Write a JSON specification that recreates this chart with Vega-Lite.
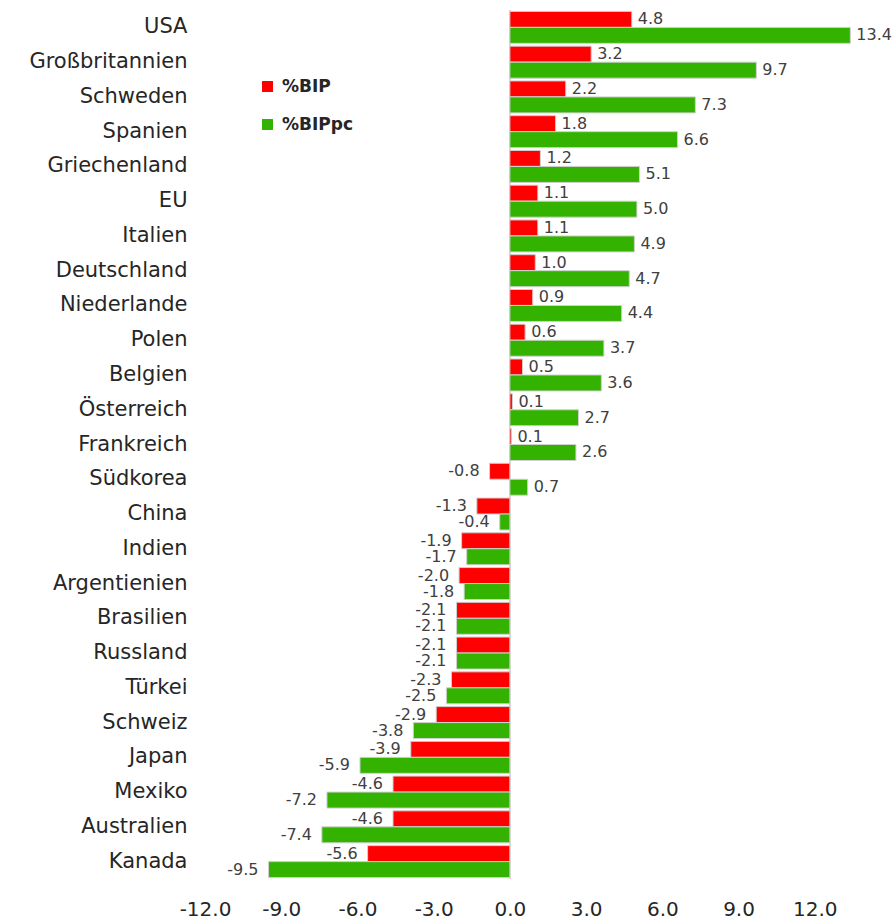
{
  "$schema": "https://vega.github.io/schema/vega-lite/v6.json",
  "width": 686,
  "height": 869,
  "autosize": {"type": "none"},
  "padding": {"left": 205, "top": 10, "right": 1, "bottom": 40},
  "background": "white",
  "config": {
    "view": {"stroke": null},
    "font": "DejaVu Sans",
    "text": {"font": "DejaVu Sans"},
    "locale": {
      "number": {
        "decimal": ".",
        "thousands": ",",
        "grouping": [3],
        "currency": ["$", ""],
        "minus": "-"
      }
    }
  },
  "data": {
    "values": [
      {"country": "USA", "series": "%BIP", "value": 4.8},
      {"country": "USA", "series": "%BIPpc", "value": 13.4},
      {"country": "Großbritannien", "series": "%BIP", "value": 3.2},
      {"country": "Großbritannien", "series": "%BIPpc", "value": 9.7},
      {"country": "Schweden", "series": "%BIP", "value": 2.2},
      {"country": "Schweden", "series": "%BIPpc", "value": 7.3},
      {"country": "Spanien", "series": "%BIP", "value": 1.8},
      {"country": "Spanien", "series": "%BIPpc", "value": 6.6},
      {"country": "Griechenland", "series": "%BIP", "value": 1.2},
      {"country": "Griechenland", "series": "%BIPpc", "value": 5.1},
      {"country": "EU", "series": "%BIP", "value": 1.1},
      {"country": "EU", "series": "%BIPpc", "value": 5.0},
      {"country": "Italien", "series": "%BIP", "value": 1.1},
      {"country": "Italien", "series": "%BIPpc", "value": 4.9},
      {"country": "Deutschland", "series": "%BIP", "value": 1.0},
      {"country": "Deutschland", "series": "%BIPpc", "value": 4.7},
      {"country": "Niederlande", "series": "%BIP", "value": 0.9},
      {"country": "Niederlande", "series": "%BIPpc", "value": 4.4},
      {"country": "Polen", "series": "%BIP", "value": 0.6},
      {"country": "Polen", "series": "%BIPpc", "value": 3.7},
      {"country": "Belgien", "series": "%BIP", "value": 0.5},
      {"country": "Belgien", "series": "%BIPpc", "value": 3.6},
      {"country": "Österreich", "series": "%BIP", "value": 0.1},
      {"country": "Österreich", "series": "%BIPpc", "value": 2.7},
      {"country": "Frankreich", "series": "%BIP", "value": 0.06},
      {"country": "Frankreich", "series": "%BIPpc", "value": 2.6},
      {"country": "Südkorea", "series": "%BIP", "value": -0.8},
      {"country": "Südkorea", "series": "%BIPpc", "value": 0.7},
      {"country": "China", "series": "%BIP", "value": -1.3},
      {"country": "China", "series": "%BIPpc", "value": -0.4},
      {"country": "Indien", "series": "%BIP", "value": -1.9},
      {"country": "Indien", "series": "%BIPpc", "value": -1.7},
      {"country": "Argentienien", "series": "%BIP", "value": -2.0},
      {"country": "Argentienien", "series": "%BIPpc", "value": -1.8},
      {"country": "Brasilien", "series": "%BIP", "value": -2.1},
      {"country": "Brasilien", "series": "%BIPpc", "value": -2.1},
      {"country": "Russland", "series": "%BIP", "value": -2.1},
      {"country": "Russland", "series": "%BIPpc", "value": -2.1},
      {"country": "Türkei", "series": "%BIP", "value": -2.3},
      {"country": "Türkei", "series": "%BIPpc", "value": -2.5},
      {"country": "Schweiz", "series": "%BIP", "value": -2.9},
      {"country": "Schweiz", "series": "%BIPpc", "value": -3.8},
      {"country": "Japan", "series": "%BIP", "value": -3.9},
      {"country": "Japan", "series": "%BIPpc", "value": -5.9},
      {"country": "Mexiko", "series": "%BIP", "value": -4.6},
      {"country": "Mexiko", "series": "%BIPpc", "value": -7.2},
      {"country": "Australien", "series": "%BIP", "value": -4.6},
      {"country": "Australien", "series": "%BIPpc", "value": -7.4},
      {"country": "Kanada", "series": "%BIP", "value": -5.6},
      {"country": "Kanada", "series": "%BIPpc", "value": -9.5}
    ]
  },
  "encoding": {
    "y": {
      "field": "country",
      "type": "nominal",
      "sort": null,
      "scale": {"paddingInner": 0.08, "paddingOuter": 0.04},
      "axis": {
        "title": null,
        "ticks": false,
        "domain": false,
        "labelFontSize": 21,
        "labelColor": "#262626",
        "labelPadding": 18,
        "labelFont": "DejaVu Sans",
        "labelOverlap": false
      }
    },
    "yOffset": {
      "field": "series",
      "type": "nominal",
      "sort": ["%BIP", "%BIPpc"],
      "scale": {"paddingInner": 0, "paddingOuter": 0}
    },
    "x": {
      "field": "value",
      "type": "quantitative",
      "scale": {"domain": [-12, 15], "nice": false, "zero": false},
      "axis": {
        "title": null,
        "values": [-12, -9, -6, -3, 0, 3, 6, 9, 12],
        "format": ".1f",
        "grid": false,
        "ticks": false,
        "domain": false,
        "labelFontSize": 20,
        "labelColor": "#262626",
        "labelPadding": 20,
        "labelFont": "DejaVu Sans",
        "labelOverlap": false,
        "labelFlush": false
      }
    }
  },
  "layer": [
    {
      "mark": {"type": "rule", "color": "#d9d9d9", "strokeWidth": 1.5},
      "encoding": {
        "x": {"datum": 0, "type": "quantitative"},
        "y": null,
        "yOffset": null
      }
    },
    {
      "mark": {"type": "bar", "stroke": "#d0d0d0", "strokeWidth": 1},
      "encoding": {
        "color": {
          "field": "series",
          "type": "nominal",
          "scale": {"domain": ["%BIP", "%BIPpc"], "range": ["#ff0000", "#33b300"]},
          "legend": {
            "title": null,
            "orient": "none",
            "legendX": 54,
            "legendY": 68,
            "symbolType": "square",
            "symbolSize": 120,
            "symbolStrokeWidth": 0,
            "labelFontSize": 17,
            "labelFontWeight": 600,
            "labelColor": "#262626",
            "labelFont": "DejaVu Sans",
            "rowPadding": 20,
            "labelOffset": 6
          }
        }
      }
    },
    {
      "transform": [{"filter": "datum.value >= 0"}],
      "mark": {"type": "text", "align": "left", "dx": 6, "fontSize": 16, "color": "#404040"},
      "encoding": {"text": {"field": "value", "type": "quantitative", "format": ".1f"}}
    },
    {
      "transform": [{"filter": "datum.value < 0"}],
      "mark": {"type": "text", "align": "right", "dx": -10, "fontSize": 16, "color": "#404040"},
      "encoding": {"text": {"field": "value", "type": "quantitative", "format": ".1f"}}
    }
  ]
}
